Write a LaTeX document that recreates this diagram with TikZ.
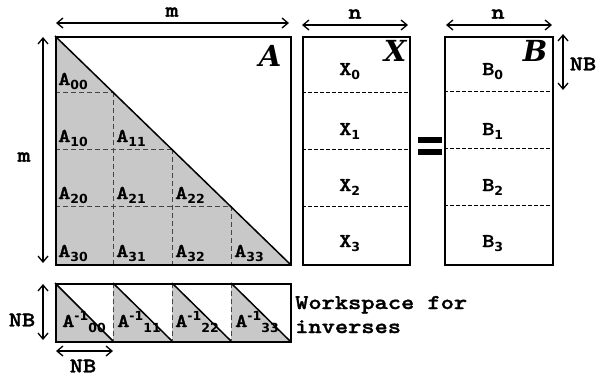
\documentclass[tikz,border=0pt]{standalone}
\usepackage{fontspec}
\newfontfamily\cour{lmmonolt10}[Extension=.otf, UprightFont=*-regular, BoldFont=*-bold, FakeStretch=1.2, BoldFeatures={FakeBold=1.5}]
\newfontfamily\subf{DejaVu Sans}
\newfontfamily\bigf{DejaVu Serif}
\usetikzlibrary{arrows.meta}
\definecolor{shadegray}{RGB}{200,200,200}
\definecolor{dashgray}{RGB}{70,70,70}
\newcommand{\subsz}{\subf\fontsize{12.5}{12.5}\selectfont}
\newcommand{\Lb}[2]{#1\raisebox{-4pt}{\subsz #2}}
\newcommand{\Li}[1]{A\raisebox{7pt}{\subsz -1}\raisebox{-5pt}{\subsz #1}}
\begin{document}
\begin{tikzpicture}[x=1pt,y=-1pt,
  lbl/.style={font=\cour\bfseries\fontsize{19.5}{19.5}\selectfont, inner sep=0pt},
  txt/.style={font=\cour\bfseries\fontsize{21}{21}\selectfont, inner sep=0pt},
  big/.style={font=\bigf\bfseries\itshape\fontsize{29}{29}\selectfont, inner sep=0pt},
  matbox/.style={draw, line width=2pt, inner sep=0pt, anchor=north west},
  dim/.style={line width=1.3pt, {Straight Barb[length=6pt,width=10pt]}-{Straight Barb[length=6pt,width=10pt]}},
  gdash/.style={draw=dashgray, line width=1pt, dash pattern=on 5pt off 3pt},
  bdash/.style={draw=black, line width=0.8pt, dash pattern=on 4pt off 2pt},
  diag/.style={line width=1.5pt}]
\useasboundingbox (0,0) rectangle (604,376);

% ---- matrix A ----
\fill[shadegray] (55,36) -- (55,264) -- (290,264) -- cycle;
\draw[gdash] (55,92) -- (112.7,92);
\draw[gdash] (55,149) -- (171.5,149);
\draw[gdash] (55,206) -- (230.2,206);
\draw[gdash] (113,92) -- (113,264);
\draw[gdash] (172,149) -- (172,264);
\draw[gdash] (231,206) -- (231,264);
\draw[diag] (55,36) -- (290,264);
\node[matbox, minimum width=235pt, minimum height=228pt] (Amat) at (55,36) {};
\node[big] (Abig) at (270,56) {A};

\node[lbl, anchor=base west] (a00) at (58,85) {\Lb{A}{00}};
\node[lbl, anchor=base west] (a10) at (58,142) {\Lb{A}{10}};
\node[lbl, anchor=base west] (a11) at (116,142) {\Lb{A}{11}};
\node[lbl, anchor=base west] (a20) at (58,199) {\Lb{A}{20}};
\node[lbl, anchor=base west] (a21) at (116,199) {\Lb{A}{21}};
\node[lbl, anchor=base west] (a22) at (175,199) {\Lb{A}{22}};
\node[lbl, anchor=base west] (a30) at (58,257) {\Lb{A}{30}};
\node[lbl, anchor=base west] (a31) at (116,257) {\Lb{A}{31}};
\node[lbl, anchor=base west] (a32) at (175,257) {\Lb{A}{32}};
\node[lbl, anchor=base west] (a33) at (234,257) {\Lb{A}{33}};

% ---- matrix X ----
\draw[bdash] (302,92) -- (409,92);
\draw[bdash] (302,149) -- (409,149);
\draw[bdash] (302,206) -- (409,206);
\node[matbox, minimum width=107pt, minimum height=228pt] (Xmat) at (302,36) {};
\node[big] (Xbig) at (395,51) {X};
\node[lbl, anchor=base west] (x0) at (339,75) {\Lb{X}{0}};
\node[lbl, anchor=base west] (x1) at (339,135) {\Lb{X}{1}};
\node[lbl, anchor=base west] (x2) at (339,191) {\Lb{X}{2}};
\node[lbl, anchor=base west] (x3) at (339,247) {\Lb{X}{3}};

% ---- equals ----
\fill (418,137) rectangle (442,143);
\fill (418,149) rectangle (442,155);

% ---- matrix B ----
\draw[bdash] (444,91) -- (552,91);
\draw[bdash] (444,148) -- (552,148);
\draw[bdash] (444,205) -- (552,205);
\node[matbox, minimum width=108pt, minimum height=228pt] (Bmat) at (444,36) {};
\node[big] (Bbig) at (535,51) {B};
\node[lbl, anchor=base west] (b0) at (482,75) {\Lb{B}{0}};
\node[lbl, anchor=base west] (b1) at (482,135) {\Lb{B}{1}};
\node[lbl, anchor=base west] (b2) at (482,191) {\Lb{B}{2}};
\node[lbl, anchor=base west] (b3) at (482,247) {\Lb{B}{3}};

% ---- workspace ----
\foreach \x/\y [count=\i] in {55/113,113/172,172/231,231/290}{
  \fill[shadegray] (\x,283) -- (\x,341) -- (\y,341) -- cycle;
  \draw[diag] (\x,283) -- (\y,341);
}
\draw[gdash] (113,283) -- (113,341);
\draw[gdash] (172,283) -- (172,341);
\draw[gdash] (231,283) -- (231,341);
\node[matbox, minimum width=235pt, minimum height=58pt] (Wmat) at (55,283) {};
\node[lbl, anchor=base west] (i00) at (62,327) {\Li{00}};
\node[lbl, anchor=base west] (i11) at (117,327) {\Li{11}};
\node[lbl, anchor=base west] (i22) at (175,327) {\Li{22}};
\node[lbl, anchor=base west] (i33) at (235,327) {\Li{33}};
\node[txt, anchor=base west] (w1) at (295,309) {Workspace for};
\node[txt, anchor=base west] (w2) at (295,333) {inverses};

% ---- dimension arrows ----
\coordinate (mTL) at (56,23);
\coordinate (mTR) at (289,23);
\draw[dim] (mTL) -- (mTR);
\node[txt] (mtop) at (172,12) {m};

\coordinate (nXL) at (302,25);
\coordinate (nXR) at (408,25);
\draw[dim] (nXL) -- (nXR);
\node[txt] (nX) at (355,14) {n};

\coordinate (nBL) at (446,25);
\coordinate (nBR) at (552,25);
\draw[dim] (nBL) -- (nBR);
\node[txt] (nB) at (498,14) {n};

\coordinate (nbT) at (563,34);
\coordinate (nbB) at (563,90);
\draw[dim] (nbT) -- (nbB);
\node[txt] (nbR) at (583,64) {NB};

\coordinate (mLT) at (43,37);
\coordinate (mLB) at (43,263);
\draw[dim] (mLT) -- (mLB);
\node[txt] (mleft) at (24,157) {m};

\coordinate (wLT) at (43,284);
\coordinate (wLB) at (43,340);
\draw[dim] (wLT) -- (wLB);
\node[txt] (nbL) at (22,320) {NB};

\coordinate (wBL) at (56,351);
\coordinate (wBR) at (113,351);
\draw[dim] (wBL) -- (wBR);
\node[txt] (nbBot) at (83,366) {NB};
\end{tikzpicture}
\end{document}
